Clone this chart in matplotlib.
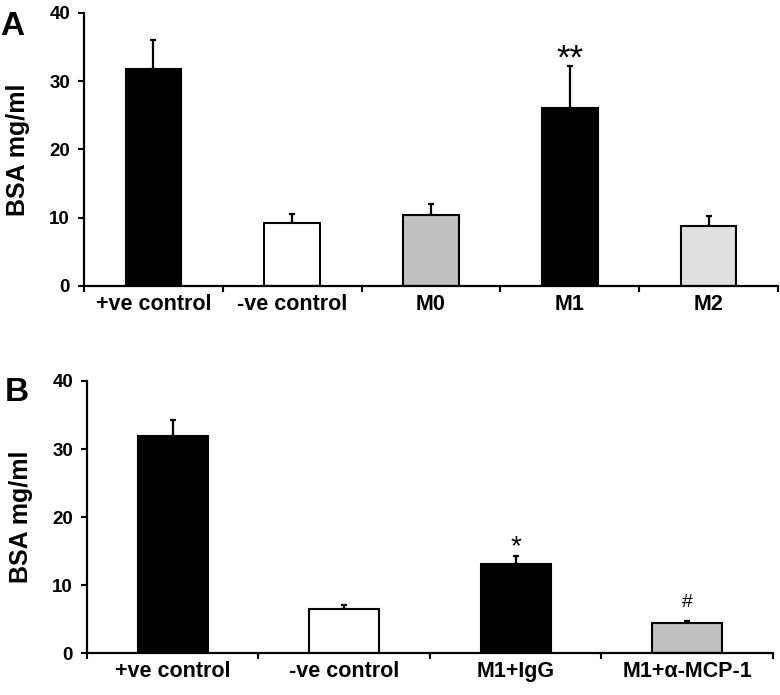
import matplotlib
matplotlib.use("Agg")
import matplotlib.pyplot as plt
import numpy as np

plt.rcParams['font.family'] = ['Liberation Sans', 'DejaVu Sans']

# panel A
cats_a = ["+ve control", "-ve control", "M0", "M1", "M2"]
vals_a = [31.8, 9.2, 10.4, 26.1, 8.8]
errs_a = [4.3, 1.4, 1.6, 6.1, 1.5]
cols_a = ["black", "white", "#c0c0c0", "black", "#e0e0e0"]
marks_a = ["", "", "", "**", ""]

# panel B
cats_b = ["+ve control", "-ve control", "M1+IgG", "M1+\u03b1-MCP-1"]
vals_b = [31.9, 6.4, 13.1, 4.35]
errs_b = [2.4, 0.6, 1.2, 0.4]
cols_b = ["black", "white", "black", "#c0c0c0"]
marks_b = ["", "", "*", "#"]

fig = plt.figure(figsize=(7.8, 6.95), dpi=100)
ax_a = fig.add_axes([0.1077, 0.5885, 0.8897, 0.3928])
ax_b = fig.add_axes([0.1115, 0.0604, 0.8795, 0.3914])


def draw(ax, cats, vals, errs, cols, marks, width, star_size):
    x = np.arange(len(cats))
    ax.bar(x, vals, width=width, color=cols, edgecolor="black", linewidth=1.5, zorder=2)
    ax.errorbar(x, vals, yerr=[np.zeros(len(vals)), errs], fmt="none",
                ecolor="black", elinewidth=1.6, capsize=2.5, capthick=1.6, zorder=1)
    for xi, v, e, m in zip(x, vals, errs, marks):
        if m.startswith("*"):
            ax.text(xi, v + e + (-0.4 if len(m) > 1 else 0.3), m, ha="center", va="baseline",
                    fontsize=star_size)
        elif m:
            ax.text(xi, v + e + 2.05, m, ha="center", va="baseline", fontsize=14)
    ax.set_xlim(-0.5, len(cats) - 0.5)
    ax.set_ylim(0, 40)
    ax.set_yticks([0, 10, 20, 30, 40])
    ax.set_xticks(x)
    ax.set_xticklabels(cats, fontsize=15.5, fontweight="bold")
    ax.set_xticks(np.arange(len(cats) + 1) - 0.5, minor=True)
    ax.tick_params(axis="x", which="major", length=0, pad=6)
    ax.tick_params(axis="x", which="minor", length=4, width=1.5, direction="out")
    ax.tick_params(axis="y", length=4, width=1.5, direction="out", pad=6, labelsize=13.5)
    for lab in ax.get_yticklabels():
        lab.set_fontweight("bold")
    for s in ["top", "right"]:
        ax.spines[s].set_visible(False)
    for s in ["left", "bottom"]:
        ax.spines[s].set_linewidth(1.6)
    ax.set_ylabel("BSA mg/ml", fontsize=18, fontweight="bold", labelpad=14)


draw(ax_a, cats_a, vals_a, errs_a, cols_a, marks_a, 0.4, 25)
draw(ax_b, cats_b, vals_b, errs_b, cols_b, marks_b, 0.41, 20)

fig.text(0.0, 1 - 35 / 695, "A", fontsize=24, fontweight="bold", ha="left", va="baseline")
fig.text(5 / 780, 1 - 401 / 695, "B", fontsize=24, fontweight="bold", ha="left", va="baseline")

fig.savefig("out.png", dpi=100)
